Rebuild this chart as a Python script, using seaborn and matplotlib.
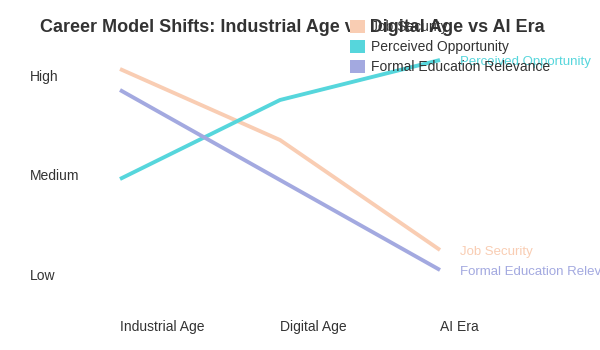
import matplotlib
matplotlib.use("Agg")
import matplotlib.pyplot as plt
from matplotlib.patches import Patch
import seaborn as sns
import pandas as pd

eras = ["Industrial Age", "Digital Age", "AI Era"]
level_labels = ["Low", "Medium", "High"]
level_values = [1, 2, 3]
series_names = ["Job Security", "Perceived Opportunity", "Formal Education Relevance"]
job_security = [3.06, 2.35, 1.25]
perceived_opportunity = [1.96, 2.75, 3.15]
formal_education = [2.85, 1.95, 1.05]
colors = ["#F9CDB3", "#56D6DC", "#A3A9E0"]

rows = []
for name, vals in zip(series_names, [job_security, perceived_opportunity, formal_education]):
    for i, (era, v) in enumerate(zip(eras, vals)):
        rows.append({"era": era, "pos": i, "value": v, "series": name})
df = pd.DataFrame(rows)

sns.set_style("white")
plt.rcParams["font.family"] = ["Liberation Sans", "DejaVu Sans"]

fig = plt.figure(figsize=(6, 3.5), dpi=100)
ax = fig.add_axes([120 / 600, 75 / 350, 320 / 600, 200 / 350])
palette = dict(zip(series_names, colors))
sns.lineplot(data=df, x="pos", y="value", hue="series", palette=palette,
             linewidth=2.8, legend=False, ax=ax)
for line in ax.lines:
    line.set_clip_on(False)
    line.set_solid_capstyle("butt")

ax.set_xlim(0, 2)
ax.set_ylim(1, 3)
for s in ax.spines.values():
    s.set_visible(False)
ax.set_xlabel("")
ax.set_ylabel("")
ax.set_xticks(range(len(eras)))
ax.set_xticklabels(eras, ha="left", fontsize=10, color="#333333")
ax.set_yticks(level_values)
ax.set_yticklabels(level_labels, ha="left", fontsize=10, color="#333333")
ax.tick_params(axis="y", length=0, pad=64.8)
ax.tick_params(axis="x", length=0, pad=32.5)
ax.grid(False)

for name, vals, c in zip(series_names, [job_security, perceived_opportunity, formal_education], colors):
    ax.annotate(name, xy=(2, vals[-1]), xytext=(14.4, -1.5), textcoords="offset points",
                va="center", ha="left", fontsize=9.5, color=c, annotation_clip=False)

fig.text(40 / 600, 1 - 27 / 350, "Career Model Shifts: Industrial Age vs Digital Age vs AI Era",
         ha="left", va="center", fontsize=13, fontweight="bold", color="#333333")

handles = [Patch(facecolor=c, edgecolor="none", label=n) for n, c in zip(series_names, colors)]
fig.legend(handles=handles, loc="upper left", bbox_to_anchor=(350 / 600, 1 - 20 / 350),
           frameon=False, fontsize=10, handlelength=1.08, handleheight=1.08,
           handletextpad=0.43, labelspacing=0.4, borderpad=0, borderaxespad=0,
           labelcolor="#333333")

fig.savefig("out.png", dpi=100)
